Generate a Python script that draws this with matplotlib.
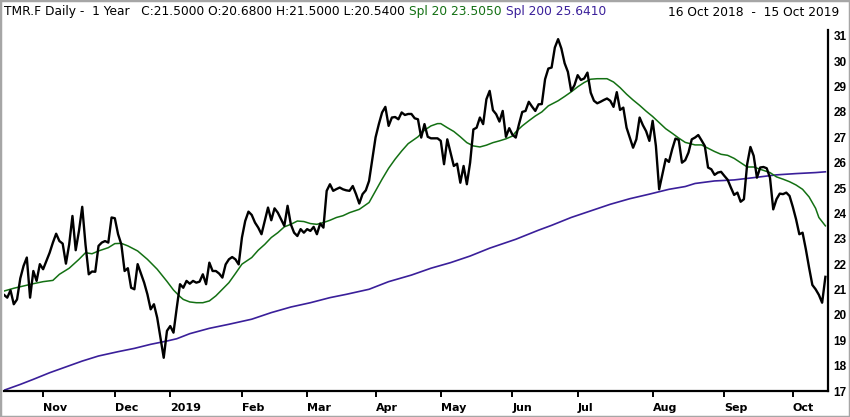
import matplotlib
matplotlib.use('Agg')
import matplotlib.pyplot as plt
from matplotlib.patches import Rectangle
import pandas as pd

# exchange holidays (Frankfurt) inside the one-year window
holidays = ['2018-12-24', '2018-12-25', '2018-12-26', '2018-12-31',
            '2019-01-01', '2019-04-19', '2019-04-22', '2019-05-01']

# daily closes, 16 Oct 2018 .. 15 Oct 2019
closes = [
    20.79, 20.68, 20.97, 20.42, 20.61, 21.44, 21.93, 22.26, 20.68, 21.73,
    21.34, 22.00, 21.80, 22.13, 22.45, 22.85, 23.20, 22.91, 22.81, 22.02,
    22.78, 23.90, 22.55, 23.31, 24.26, 22.78, 21.60, 21.71, 21.70, 22.72,
    22.85, 22.91, 22.85, 23.84, 23.81, 23.18, 22.78, 21.73, 21.84, 21.07,
    21.01, 22.00, 21.63, 21.27, 20.81, 20.22, 20.42, 19.89, 19.10, 18.31,
    19.37, 19.56, 19.30, 20.28, 21.21, 21.07, 21.34, 21.23, 21.34, 21.27,
    21.31, 21.60, 21.21, 22.06, 21.73, 21.73, 21.63, 21.47, 21.99, 22.19,
    22.28, 22.19, 21.99, 23.05, 23.70, 24.07, 23.94, 23.64, 23.44, 23.18,
    23.70, 24.23, 23.73, 24.20, 24.03, 23.77, 23.51, 24.30, 23.57, 23.24,
    23.11, 23.38, 23.24, 23.38, 23.31, 23.47, 23.18, 23.60, 23.44, 24.89,
    25.15, 24.89, 24.96, 25.02, 24.95, 24.91, 24.89, 25.08, 24.76, 24.39,
    24.76, 24.91, 25.28, 26.13, 27.00, 27.52, 27.98, 28.20, 27.45, 27.78,
    27.80, 27.71, 27.98, 27.88, 27.92, 27.92, 27.75, 27.71, 26.99, 27.52,
    27.02, 26.96, 26.96, 26.96, 26.86, 25.94, 26.92, 26.39, 25.87, 25.96,
    25.21, 25.87, 25.15, 26.00, 27.31, 27.38, 27.78, 27.52, 28.50, 28.83,
    28.07, 27.91, 27.62, 28.04, 27.02, 27.36, 27.10, 26.99, 27.52, 28.00,
    28.04, 28.40, 28.21, 28.04, 28.30, 28.31, 29.29, 29.71, 29.75, 30.54,
    30.87, 30.50, 29.92, 29.58, 28.83, 29.05, 29.45, 29.26, 29.32, 29.55,
    28.76, 28.44, 28.34, 28.40, 28.47, 28.53, 28.44, 28.20, 28.78, 28.08,
    28.17, 27.38, 26.99, 26.59, 26.92, 27.78, 27.48, 27.24, 26.86, 27.65,
    26.66, 24.95, 25.54, 26.14, 26.03, 26.53, 26.95, 26.90, 26.00, 26.10,
    26.40, 26.92, 26.99, 27.09, 26.88, 26.66, 25.81, 25.74, 25.52, 25.61,
    25.64, 25.48, 25.33, 25.02, 24.73, 24.82, 24.46, 24.56, 25.94, 26.62,
    26.27, 25.41, 25.81, 25.83, 25.78, 25.41, 24.16, 24.56, 24.78, 24.76,
    24.82, 24.69, 24.26, 23.77, 23.18, 23.24, 22.59, 21.86, 21.18, 21.01,
    20.79, 20.48, 21.50,
]

# 20-day average, sampled at trading-day numbers
spl20_days = [0, 3, 6, 9, 12, 15, 17, 20, 23, 25, 27, 29, 32, 34, 36, 38, 41, 44,
              47, 50, 52, 54, 55, 57, 59, 61, 63, 65, 67, 69, 71, 73, 76, 78, 80,
              82, 84, 86, 88, 90, 92, 94, 96, 98, 100, 102, 104, 106, 109, 112,
              114, 116, 118, 120, 122, 124, 127, 129, 131, 133, 134, 136, 138,
              140, 142, 144, 146, 148, 150, 152, 154, 156, 157, 159, 161, 163,
              165, 167, 170, 172, 174, 176, 178, 180, 182, 185, 187, 189, 191,
              193, 195, 197, 199, 201, 203, 205, 207, 209, 212, 214, 216, 218,
              220, 222, 224, 226, 228, 230, 232, 235, 237, 239, 241, 243, 245,
              247, 249, 250, 252]
spl20_vals = [20.94, 21.05, 21.14, 21.23, 21.31, 21.36, 21.60, 21.84, 22.19, 22.45,
              22.41, 22.52, 22.65, 22.81, 22.82, 22.72, 22.52, 22.19, 21.80, 21.32,
              20.98, 20.72, 20.61, 20.51, 20.48, 20.48, 20.55, 20.75, 21.01, 21.27,
              21.63, 22.00, 22.26, 22.55, 22.78, 23.05, 23.24, 23.47, 23.57, 23.70,
              23.68, 23.60, 23.57, 23.64, 23.73, 23.84, 23.91, 24.03, 24.16, 24.43,
              24.89, 25.35, 25.78, 26.14, 26.46, 26.75, 27.02, 27.28, 27.45, 27.54,
              27.54, 27.38, 27.23, 27.02, 26.79, 26.66, 26.62, 26.69, 26.79, 26.86,
              26.94, 27.05, 27.21, 27.45, 27.65, 27.84, 28.00, 28.24, 28.44, 28.61,
              28.79, 28.99, 29.16, 29.29, 29.31, 29.31, 29.18, 28.96, 28.70, 28.47,
              28.26, 28.03, 27.82, 27.58, 27.34, 27.16, 26.97, 26.80, 26.70, 26.70,
              26.57, 26.44, 26.33, 26.29, 26.17, 26.00, 25.83, 25.83, 25.74, 25.61,
              25.44, 25.35, 25.25, 25.12, 24.95, 24.65, 24.20, 23.84, 23.51]

# 200-day average
spl200_days = [0, 5, 9, 14, 19, 24, 29, 35, 40, 45, 50, 53, 57, 63, 69, 76, 82, 88,
               94, 100, 105, 112, 118, 125, 131, 137, 143, 149, 157, 164, 168, 174,
               180, 186, 192, 198, 204, 209, 212, 218, 224, 230, 237, 243, 249, 252]
spl200_vals = [17.03, 17.26, 17.46, 17.72, 17.95, 18.18, 18.38, 18.55, 18.68, 18.84,
               18.97, 19.06, 19.26, 19.47, 19.63, 19.83, 20.09, 20.31, 20.48, 20.68,
               20.81, 21.01, 21.31, 21.57, 21.84, 22.06, 22.32, 22.63, 22.98, 23.34,
               23.53, 23.84, 24.10, 24.36, 24.58, 24.76, 24.95, 25.06, 25.18, 25.28,
               25.32, 25.41, 25.52, 25.57, 25.61, 25.64]

y_ticks = list(range(17, 32))
last_bar = {'C': 21.5, 'O': 20.68, 'H': 21.5, 'L': 20.54}
spl20_last, spl200_last = 23.505, 25.641

GREEN = '#137013'
PURPLE = '#3a1f9a'

days = pd.bdate_range('2018-10-16', '2019-10-15')
days = days[~days.isin(pd.to_datetime(holidays))]
x = list(range(len(closes)))

month_pos, month_lab = [], []
for i in range(1, len(days)):
    if days[i].month != days[i - 1].month:
        month_pos.append(i)
        month_lab.append(str(days[i].year) if days[i].month == 1 else days[i].strftime('%b'))

W, H = 850, 417
fig = plt.figure(figsize=(W / 100, H / 100), dpi=100)
ax = fig.add_axes([4 / W, 26 / H, 824 / W, 361 / H])

ax.plot(spl200_days, spl200_vals, color=PURPLE, lw=1.2, zorder=2)
ax.plot(spl20_days, spl20_vals, color=GREEN, lw=1.1, zorder=3)
ax.plot(x, closes, color='black', lw=1.7, zorder=4)

ax.set_xlim(0, 252.8)
ax.set_ylim(17, 31.23)
for s in ['top', 'left']:
    ax.spines[s].set_visible(False)
for s in ['bottom', 'right']:
    ax.spines[s].set_linewidth(1.6)

ax.set_xticks(month_pos)
ax.set_xticklabels(month_lab, fontsize=8, fontweight='bold', ha='left')
ax.tick_params(axis='x', length=4.5, width=1.4, pad=4)

ax.yaxis.tick_right()
ax.set_yticks(y_ticks)
ax.set_yticklabels([str(v) for v in y_ticks], fontsize=8.5, fontweight='bold',
                   family='Liberation Sans')
ax.tick_params(axis='y', length=0, pad=4)

# header line
fig.canvas.draw()
rend = fig.canvas.get_renderer()
ty = 1 - 12 / H
head = 'TMR.F Daily -  1 Year   ' + ' '.join(f'{k}:{v:.4f}' for k, v in last_bar.items())
parts = [(head, 'black'), (f'Spl 20 {spl20_last:.4f}', GREEN),
         (f'Spl 200 {spl200_last:.4f}', PURPLE)]
xpos = 4
for txt, col in parts:
    t = fig.text(xpos / W, ty, txt, color=col, fontsize=8.8, va='center')
    xpos = t.get_window_extent(renderer=rend).x1 + 4
fig.text(839 / W, ty, '16 Oct 2018  -  15 Oct 2019', fontsize=8.8, va='center', ha='right')

fig.patches.append(Rectangle((0, 0), 1, 1, transform=fig.transFigure, fill=False,
                             edgecolor='#a6a6a6', lw=2.5))

fig.savefig('out.png', dpi=100)
